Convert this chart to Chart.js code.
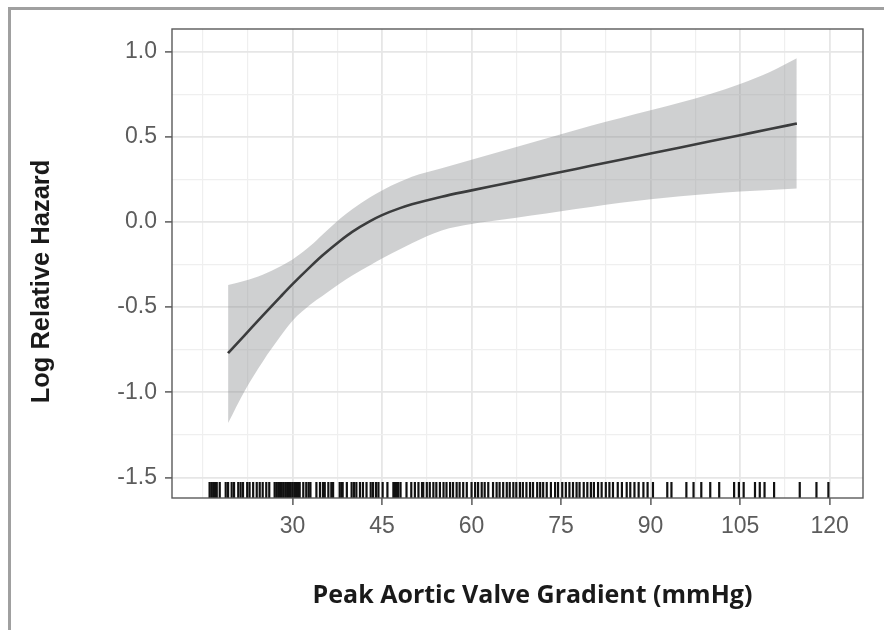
<!DOCTYPE html>
<html>
<head>
<meta charset="utf-8">
<script src="https://cdn.jsdelivr.net/npm/chart.js@4.4.1/dist/chart.umd.min.js"></script>
<style>
    html, body { margin: 0; padding: 0; background: #fff; }
    #wrap { position: relative; width: 884px; height: 630px; overflow: hidden; }
    #frame { position: absolute; left: 8px; top: 7px; width: 900px; height: 700px;
             border-top: 3px solid #a0a0a0; border-left: 3px solid #a0a0a0; }
    #hazardChart { position: absolute; left: 0; top: 0; }
</style>
</head>
<body>
<div id="wrap">
    <div id="frame"></div>
    <canvas id="hazardChart" width="884" height="630"></canvas>
</div>
<script>
// spline fit: gradient (mmHg) vs log relative hazard, with 95% band
var gradX   = [19.2, 22, 25, 28, 30, 33, 35, 38, 40, 43, 45, 48, 50, 55, 60, 65, 70, 75, 80, 85, 90, 95, 100, 105, 110, 114.5];
var hazard  = [-0.77, -0.664, -0.55, -0.438, -0.365, -0.262, -0.197, -0.11, -0.058, 0.005, 0.04, 0.081, 0.103, 0.148, 0.185, 0.221, 0.257, 0.293, 0.329, 0.365, 0.401, 0.437, 0.473, 0.509, 0.545, 0.577];
var upper   = [-0.37, -0.345, -0.31, -0.26, -0.22, -0.14, -0.075, 0.02, 0.075, 0.145, 0.185, 0.235, 0.265, 0.315, 0.365, 0.415, 0.465, 0.515, 0.565, 0.61, 0.655, 0.70, 0.75, 0.81, 0.88, 0.96];
var lower   = [-1.18, -0.99, -0.82, -0.67, -0.58, -0.485, -0.435, -0.36, -0.315, -0.255, -0.215, -0.16, -0.125, -0.05, -0.012, 0.013, 0.038, 0.063, 0.088, 0.112, 0.133, 0.15, 0.165, 0.178, 0.188, 0.196];

// observed gradients, drawn as a rug
var rugValues = [16.1, 16.4, 16.7, 17.0, 17.3, 17.8, 18.8, 19.2, 19.8, 20.2, 20.9, 21.3, 21.7, 22.4, 22.8, 23.4, 24.0, 24.5,
    25.0, 25.6, 26.1, 27.0, 27.3, 27.6, 27.9, 28.2, 28.5, 28.8, 29.1, 29.4, 29.7, 30.0, 30.3, 30.6, 30.9, 31.2, 31.8, 32.3,
    32.7, 33.0, 34.0, 34.6, 35.1, 35.4, 36.0, 36.5, 36.8, 37.9, 38.2, 38.4, 39.1, 39.9, 40.3, 40.7, 41.3, 41.8, 42.4, 43.1,
    43.5, 44.0, 44.4, 45.1, 45.9, 46.9, 47.1, 47.3, 47.5, 47.7, 48.1, 49.1, 49.9, 50.5, 51.1, 51.7, 51.9, 52.5, 53.0, 53.6,
    54.1, 54.7, 55.3, 55.8, 56.4, 56.9, 57.5, 58.0, 58.6, 59.2, 60.0, 60.6, 61.1, 61.7, 62.2, 62.8, 63.6, 64.2, 64.7, 65.3,
    65.9, 66.4, 67.0, 67.5, 68.1, 68.6, 69.2, 69.8, 70.3, 71.0, 71.5, 72.0, 72.6, 73.3, 74.0, 74.5, 75.2, 75.8, 76.4, 77.0,
    77.6, 78.1, 78.8, 79.4, 80.0, 80.5, 81.2, 81.8, 82.5, 83.1, 83.7, 84.5, 85.2, 86.0, 86.6, 87.3, 88.0, 88.8, 89.5, 90.4,
    92.8, 93.5, 96.0, 97.2, 98.5, 100.0, 101.5, 104.0, 104.8, 105.6, 107.5, 108.3, 109.1, 110.7, 115.0, 117.8, 119.8];

var xLabelTicks = [30, 45, 60, 75, 90, 105, 120];
var yLabelTicks = [-1.5, -1.0, -0.5, 0.0, 0.5, 1.0];

var xTitle = 'Peak Aortic Valve Gradient (mmHg)';
var yTitle = 'Log Relative Hazard';

function toPoints(xs, ys) {
    return xs.map(function (x, i) { return {x: x, y: ys[i]}; });
}

function isLabelled(list, v) {
    return list.some(function (t) { return Math.abs(t - v) < 1e-6; });
}

Chart.defaults.font.family = '"Liberation Sans", Arial, sans-serif';

// rug, panel border and axis titles
var decorations = {
    id: 'decorations',
    afterDatasetsDraw: function (chart) {
        var ctx = chart.ctx, area = chart.chartArea, xs = chart.scales.x;
        ctx.save();
        ctx.strokeStyle = '#111';
        ctx.lineWidth = 2.2;
        rugValues.forEach(function (v) {
            var px = xs.getPixelForValue(v);
            ctx.beginPath();
            ctx.moveTo(px, area.bottom);
            ctx.lineTo(px, area.bottom - 16);
            ctx.stroke();
        });
        ctx.restore();
    },
    afterDraw: function (chart) {
        var ctx = chart.ctx, area = chart.chartArea;
        ctx.save();
        ctx.strokeStyle = '#5a5a5a';
        ctx.lineWidth = 1.4;
        ctx.strokeRect(area.left, area.top, area.right - area.left, area.bottom - area.top);

        ctx.fillStyle = '#1a1a1a';
        ctx.textAlign = 'center';
        ctx.textBaseline = 'middle';
        ctx.font = 'bold 25px "Open Sans", "Liberation Sans", sans-serif';
        ctx.fillText(xTitle, (area.left + area.right) / 2 + 15, area.bottom + 98);

        ctx.font = 'bold 25.5px "Liberation Sans", Arial, sans-serif';
        ctx.translate(area.left - 130, (area.top + area.bottom) / 2 + 18);
        ctx.rotate(-Math.PI / 2);
        ctx.fillText(yTitle, 0, 0);
        ctx.restore();
    }
};

new Chart(document.getElementById('hazardChart').getContext('2d'), {
    type: 'line',
    data: {
        datasets: [{
            label: 'upper',
            data: toPoints(gradX, upper),
            borderWidth: 0,
            pointRadius: 0,
            backgroundColor: 'rgba(140,142,146,0.42)',
            fill: '+1',
            cubicInterpolationMode: 'monotone'
        }, {
            label: 'lower',
            data: toPoints(gradX, lower),
            borderWidth: 0,
            pointRadius: 0,
            fill: false,
            cubicInterpolationMode: 'monotone'
        }, {
            label: 'hazard',
            data: toPoints(gradX, hazard),
            borderColor: '#000',
            borderWidth: 2.6,
            pointRadius: 0,
            fill: false,
            cubicInterpolationMode: 'monotone'
        }]
    },
    options: {
        responsive: false,
        animation: false,
        layout: { padding: { left: 0, top: 29, right: 21, bottom: 0 } },
        plugins: { legend: { display: false }, tooltip: { enabled: false } },
        scales: {
            x: {
                type: 'linear',
                min: 9.8,
                max: 125.6,
                afterFit: function (scale) { scale.height = 132; },
                border: { display: false },
                grid: {
                    color: function (c) { return isLabelled(xLabelTicks, c.tick.value) ? '#e6e6e6' : '#efefef'; },
                    lineWidth: function (c) { return isLabelled(xLabelTicks, c.tick.value) ? 1.8 : 1.2; },
                    tickColor: function (c) { return isLabelled(xLabelTicks, c.tick.value) ? '#5a5a5a' : 'rgba(0,0,0,0)'; },
                    tickWidth: 1.5,
                    tickLength: 7
                },
                ticks: {
                    stepSize: 7.5,
                    includeBounds: false,
                    autoSkip: false,
                    maxRotation: 0,
                    padding: 8,
                    color: '#5c5c5c',
                    font: { size: 23 },
                    callback: function (v) { return isLabelled(xLabelTicks, v) ? String(v) : ''; }
                }
            },
            y: {
                type: 'linear',
                min: -1.62,
                max: 1.132,
                afterFit: function (scale) { scale.width = 172; },
                border: { display: false },
                grid: {
                    color: function (c) { return isLabelled(yLabelTicks, c.tick.value) ? '#e6e6e6' : '#efefef'; },
                    lineWidth: function (c) { return isLabelled(yLabelTicks, c.tick.value) ? 1.8 : 1.2; },
                    tickColor: function (c) { return isLabelled(yLabelTicks, c.tick.value) ? '#5a5a5a' : 'rgba(0,0,0,0)'; },
                    tickWidth: 1.5,
                    tickLength: 7
                },
                ticks: {
                    stepSize: 0.25,
                    includeBounds: false,
                    autoSkip: false,
                    padding: 8,
                    color: '#5c5c5c',
                    font: { size: 23 },
                    callback: function (v) { return isLabelled(yLabelTicks, v) ? v.toFixed(1) : ''; }
                }
            }
        }
    },
    plugins: [decorations]
});
</script>
</body>
</html>
